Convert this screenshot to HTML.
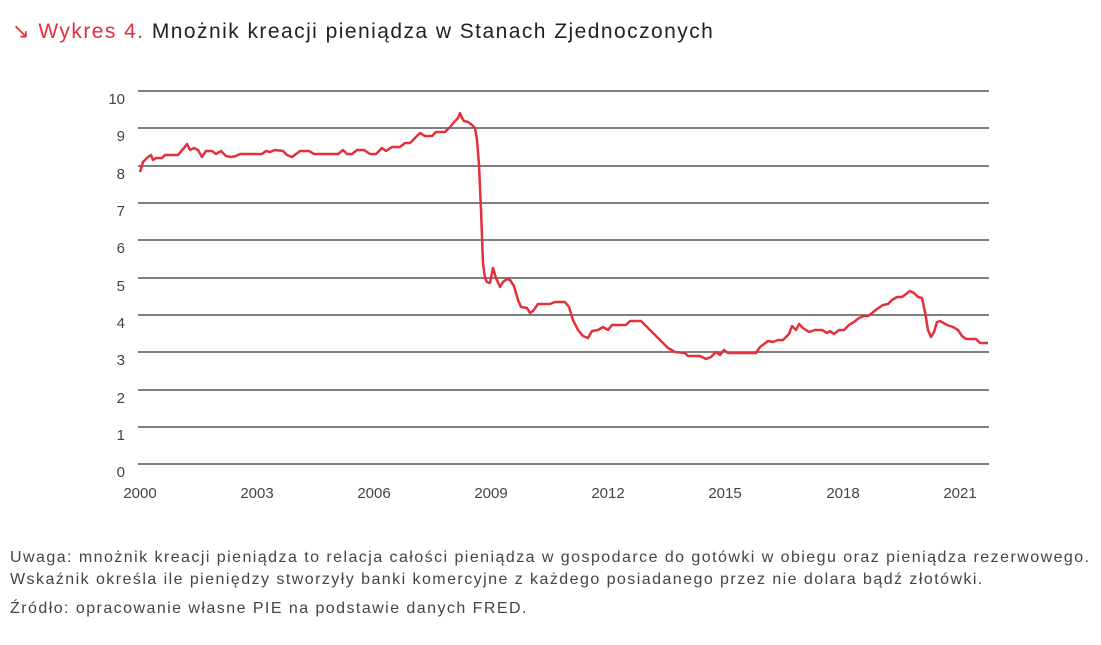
<!DOCTYPE html>
<html><head><meta charset="utf-8"><style>
body{margin:0;width:1101px;height:645px;background:#fff;font-family:"Liberation Sans",sans-serif;overflow:hidden}
.t{position:absolute;left:12px;top:19px;font-size:21px;color:#222;white-space:nowrap;letter-spacing:1.45px}
.t span{color:#e3303d}
.n{position:absolute;left:10px;font-size:16px;color:#444;white-space:nowrap;letter-spacing:1.45px}
</style></head><body>
<div class="t"><span>↘ Wykres 4.</span> Mnożnik kreacji pieniądza w Stanach Zjednoczonych</div>
<svg width="1101" height="645" style="position:absolute;left:0;top:0">
<g stroke="#555" stroke-width="1.5">
<line x1="138" y1="91" x2="989" y2="91"/><line x1="138" y1="128" x2="989" y2="128"/>
<line x1="138" y1="166" x2="989" y2="166"/><line x1="138" y1="203" x2="989" y2="203"/>
<line x1="138" y1="240" x2="989" y2="240"/><line x1="138" y1="278" x2="989" y2="278"/>
<line x1="138" y1="315" x2="989" y2="315"/><line x1="138" y1="352" x2="989" y2="352"/>
<line x1="138" y1="390" x2="989" y2="390"/><line x1="138" y1="427" x2="989" y2="427"/>
<line x1="138" y1="464" x2="989" y2="464"/>
</g>
<g font-size="15" fill="#444" text-anchor="end">
<text x="125" y="104">10</text><text x="125" y="141">9</text><text x="125" y="179">8</text>
<text x="125" y="216">7</text><text x="125" y="253">6</text><text x="125" y="291">5</text>
<text x="125" y="328">4</text><text x="125" y="365">3</text><text x="125" y="403">2</text>
<text x="125" y="440">1</text><text x="125" y="477">0</text>
</g>
<g font-size="15" fill="#444" text-anchor="middle">
<text x="140" y="498">2000</text><text x="257" y="498">2003</text><text x="374" y="498">2006</text>
<text x="491" y="498">2009</text><text x="608" y="498">2012</text><text x="725" y="498">2015</text>
<text x="843" y="498">2018</text><text x="960" y="498">2021</text>
</g>
<polyline fill="none" stroke="#e3303d" stroke-width="2.5" stroke-linejoin="round" points="140,172 143,162 148,157 151,155 153,160 156,158 162,158 165,155 178,155 184,148 187,144 190,150 194,148 198,150 202,157 206,151 212,151 216,154 221,151 226,156 231,157 236,156 240,154 262,154 266,151 270,152 275,150 283,151 287,155 292,157 296,154 300,151 309,151 314,154 338,154 343,150 347,154 352,154 357,150 364,150 370,154 376,154 382,148 386,151 392,147 400,147 405,143 410,143 415,138 420,133 425,136 432,136 436,132 445,132 450,127 455,121 458,118 460,113 462,118 464,121 468,122 472,125 475,128 477,140 479,165 481,210 483,263 485,278 487,282 490,283 493,268 496,278 500,287 503,282 507,279 510,280 514,286 518,300 521,307 527,308 530,313 533,311 538,304 550,304 555,302 565,302 569,307 573,320 578,330 583,336 588,338 592,331 598,330 603,327 608,330 612,325 626,325 630,321 641,321 650,330 660,340 668,348 675,352 685,353 688,356 700,356 706,359 711,357 716,352 720,355 724,350 728,353 756,353 760,347 764,344 768,341 773,342 778,340 783,340 789,334 792,326 796,330 799,324 803,328 809,332 815,330 822,330 827,333 830,331 834,334 839,330 844,330 849,325 854,322 859,318 864,316 868,316 872,313 877,309 883,305 888,304 892,300 897,297 902,297 906,294 910,291 914,293 918,297 922,298 925,312 928,330 931,337 934,332 937,322 940,321 947,325 953,327 958,330 962,336 966,339 976,339 980,343 988,343"/>
</svg>
<div class="n" style="top:549px">Uwaga: mnożnik kreacji pieniądza to relacja całości pieniądza w gospodarce do gotówki w obiegu oraz pieniądza rezerwowego.</div>
<div class="n" style="top:571px">Wskaźnik określa ile pieniędzy stworzyły banki komercyjne z każdego posiadanego przez nie dolara bądź złotówki.</div>
<div class="n" style="top:600px">Źródło: opracowanie własne PIE na podstawie danych FRED.</div>
</body></html>
